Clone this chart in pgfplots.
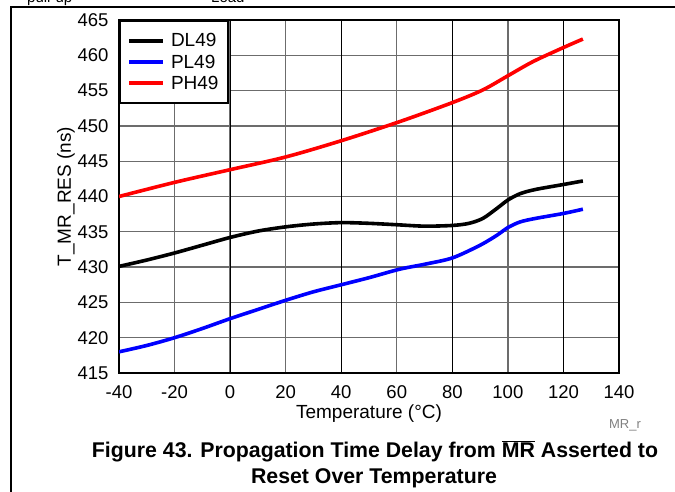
\documentclass[border=0pt]{standalone}
\usepackage{pgfplots}
\pgfplotsset{compat=1.18}
\usepackage{fontspec}
\setmainfont{Liberation Sans}
\begin{document}
\begin{tikzpicture}[x=1pt,y=1pt]
\useasboundingbox (0,0) rectangle (675,491);
% page frame lines
\draw[line width=1.5pt] (11,-2) -- (11,484) -- (676,484);
% clipped header text (only lower parts visible)
\node[anchor=base west,inner sep=0pt,font=\fontsize{15}{18}\selectfont] at (27,488.5) {pull-up};
\node[anchor=base west,inner sep=0pt,font=\fontsize{15}{18}\selectfont] at (211,488.5) {Load};
\node[anchor=base west,inner sep=0pt,font=\fontsize{19}{22}\selectfont] at (183,494) {,};
\node[anchor=base west,inner sep=0pt,font=\fontsize{19}{22}\selectfont] at (300,494) {p};
\node[anchor=base west,inner sep=0pt,font=\fontsize{19}{22}\selectfont] at (337,494) {,};
\begin{axis}[
  at={(119pt,118pt)}, anchor=south west,
  scale only axis, width=500pt, height=353pt,
  xmin=-40, xmax=140, ymin=415, ymax=465,
  xtick={-40,-20,...,140}, ytick={415,420,...,465},
  extra x ticks={0,40,80,120}, extra x tick labels={},
  extra x tick style={grid=major, major grid style={black, line width=0.9pt}},
  grid=major, major grid style={gray!85!black, line width=1.3pt},
  major tick length=0pt,
  axis line style={line width=2.6pt, black},
  tick label style={font=\fontsize{18.5}{21}\selectfont},
  /pgf/number format/assume math mode=true,
  xticklabel style={yshift=-9pt},
  yticklabel style={xshift=-7pt},
  xlabel={Temperature (°C)},
  ylabel={T\_MR\_RES (ns)},
  label style={font=\fontsize{19}{22}\selectfont},
  xlabel style={yshift=1pt},
  ylabel style={yshift=-4pt},
  legend style={at={(0,1)}, anchor=north west, draw=black, line width=2pt,
    font=\fontsize{19}{21}\selectfont, inner xsep=7pt, inner ysep=10.5pt,
    row sep=2.5pt, cells={anchor=west},
    /tikz/every odd column/.append style={column sep=4pt}},
  legend image code/.code={\draw[#1, line width=4pt] (0pt,0pt) -- (34pt,0pt);},
  every axis plot/.append style={line width=3.6pt, smooth, tension=0.5},
]
\addplot[black] coordinates {(-40,430.1) (-30,431.0) (-20,432.0) (-10,433.1) (0,434.2) (10,435.1) (20,435.7) (30,436.1) (40,436.3) (50,436.2) (60,436.0) (70,435.8) (80,435.9) (86,436.2) (91,436.9) (96,438.3) (100,439.5) (104.4,440.4) (110,441.0) (120,441.7) (127,442.2)};
\addlegendentry{DL49}
\addplot[blue] coordinates {(-40,418.0) (-30,418.9) (-20,420.0) (-10,421.3) (0,422.7) (10,424.0) (20,425.3) (30,426.5) (40,427.5) (50,428.5) (61,429.7) (70,430.4) (80,431.3) (90,433.1) (96,434.5) (100,435.6) (104.4,436.4) (110,436.9) (120,437.6) (127,438.2)};
\addlegendentry{PL49}
\addplot[red] coordinates {(-40,440.0) (-20,442.0) (0,443.8) (20,445.6) (40,447.9) (61,450.6) (80,453.3) (91,455.1) (100,457.1) (109,459.1) (120,461.1) (127,462.3)};
\addlegendentry{PH49}
\end{axis}
\node[text=gray, font=\fontsize{13}{15}\selectfont] at (625,66) {MR\_r};
\node[font=\bfseries\fontsize{21.3}{24}\selectfont] at (375,40) {Figure 43. Propagation Time Delay from $\overline{\mbox{MR}}$ Asserted to};
\node[font=\bfseries\fontsize{21.3}{24}\selectfont] at (374,13) {Reset Over Temperature};
\end{tikzpicture}
\end{document}
